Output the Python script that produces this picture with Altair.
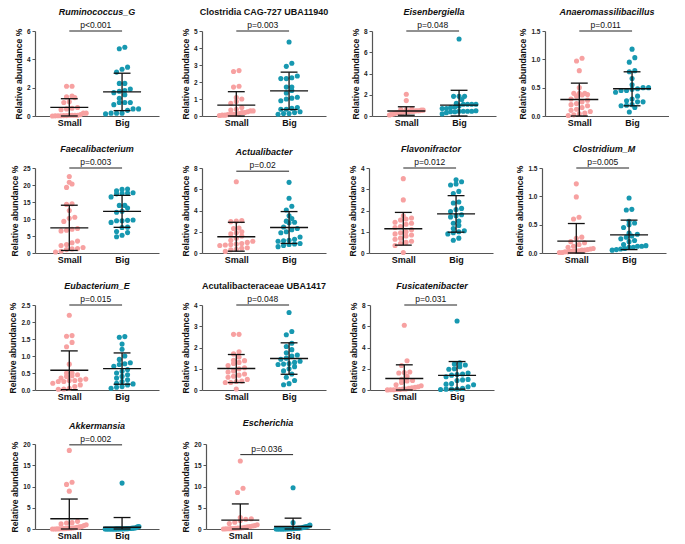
import altair as alt
import pandas as pd

# ---------------- data ----------------
names = ["Ruminococcus_G", "Clostridia CAG-727 UBA11940", "Eisenbergiella", "Anaeromassilibacillus",
         "Faecalibacterium", "Actualibacter", "Flavonifractor", "Clostridium_M",
         "Eubacterium_E", "Acutalibacteraceae UBA1417", "Fusicatenibacter",
         "Akkermansia", "Escherichia"]
italic = [True, False, True, True, True, True, True, True, True, False, True, True, True]
pvals = ["p<0.001", "p=0.003", "p=0.048", "p=0.011", "p=0.003", "p=0.02", "p=0.012", "p=0.005",
         "p=0.015", "p=0.048", "p=0.031", "p=0.002", "p=0.036"]
y_top = [6, 5, 8, 1.5, 25, 8, 4, 1.5, 2.5, 4, 8, 20, 20]
y_step = [2, 1, 2, 0.5, 5, 2, 1, 0.5, 0.5, 1, 2, 5, 5]
y_fmt = ["d", "d", "d", ".1f", "d", "d", "d", ".1f", ".1f", "d", "d", "d", "d"]
bracket_y = [6, 5, 8, 1.5, 25, 7.7, 4, 1.5, 2.5, 4, 8, 19.8, 17.5]

small_mean = [0.61, 0.64, 0.47, 0.29, 7.4, 1.53, 1.14, 0.21, 0.58, 1.01, 1.08, 2.4, 2.1]
small_sd = [0.61, 0.79, 0.40, 0.29, 6.65, 1.36, 0.77, 0.31, 0.57, 0.66, 1.29, 4.65, 3.8]
big_mean = [1.70, 1.48, 1.02, 0.48, 12.25, 2.4, 1.84, 0.32, 0.63, 1.48, 1.38, 0.4, 0.6]
big_sd = [1.32, 1.10, 1.40, 0.30, 4.7, 1.5, 0.86, 0.26, 0.46, 0.74, 1.30, 2.3, 1.95]

small_vals = [
    [2.1, 2.1, 1.4, 1.35, 1.3, 1.0, 0.95, 0.6, 0.55, 0.5, 0.45, 0.2, 0.2, 0.1, 0.05, 0.05, 0.05, 0.05, 0.03, 0.03, 0.02, 0.02, 0.01, 0.0],
    [2.67, 2.62, 1.75, 1.7, 1.08, 1.0, 0.85, 0.75, 0.5, 0.4, 0.35, 0.3, 0.3, 0.25, 0.2, 0.2, 0.15, 0.12, 0.1, 0.1, 0.08, 0.05, 0.05, 0.03],
    [2.05, 1.45, 0.65, 0.6, 0.6, 0.55, 0.55, 0.5, 0.5, 0.5, 0.45, 0.45, 0.45, 0.4, 0.4, 0.4, 0.35, 0.35, 0.3, 0.3, 0.25, 0.2, 0.15, 0.1],
    [1.02, 0.97, 0.8, 0.5, 0.4, 0.4, 0.4, 0.38, 0.37, 0.35, 0.3, 0.28, 0.25, 0.22, 0.2, 0.18, 0.15, 0.12, 0.1, 0.08, 0.05, 0.04, 0.02, 0.01],
    [22.5, 20.8, 20.3, 19.3, 14.5, 14.3, 12.5, 10.5, 10.2, 9.3, 7.2, 7.0, 6.7, 6.5, 3.5, 3.0, 2.5, 2.2, 1.6, 1.3, 1.2, 1.0, 0.5, 0.3],
    [6.7, 3.05, 3.0, 2.95, 2.35, 2.3, 2.0, 1.9, 1.8, 1.6, 1.4, 1.2, 1.1, 1.0, 0.9, 0.85, 0.8, 0.75, 0.7, 0.5, 0.45, 0.35, 0.3, 0.15],
    [3.5, 2.5, 1.75, 1.65, 1.6, 1.55, 1.45, 1.4, 1.35, 1.25, 1.2, 1.1, 1.0, 0.95, 0.9, 0.85, 0.8, 0.7, 0.65, 0.55, 0.5, 0.45, 0.35, 0.02],
    [1.22, 0.99, 0.63, 0.6, 0.28, 0.26, 0.2, 0.18, 0.15, 0.12, 0.1, 0.08, 0.07, 0.06, 0.05, 0.05, 0.04, 0.04, 0.03, 0.03, 0.02, 0.02, 0.01, 0.01],
    [2.2, 1.6, 1.58, 1.4, 1.27, 0.76, 0.5, 0.5, 0.45, 0.42, 0.4, 0.35, 0.32, 0.3, 0.28, 0.28, 0.25, 0.25, 0.2, 0.15, 0.1, 0.05, 0.03, 0.02],
    [2.62, 2.62, 1.8, 1.7, 1.55, 1.4, 1.38, 1.3, 1.25, 1.15, 1.05, 1.0, 0.9, 0.85, 0.75, 0.7, 0.65, 0.6, 0.5, 0.42, 0.4, 0.35, 0.35, 0.05],
    [6.1, 2.75, 2.3, 1.7, 1.65, 1.6, 1.3, 1.0, 0.9, 0.85, 0.7, 0.5, 0.4, 0.3, 0.25, 0.2, 0.15, 0.1, 0.1, 0.05, 0.05, 0.03, 0.02, 0.01],
    [18.5, 11.0, 10.5, 8.9, 1.8, 1.5, 1.4, 1.2, 1.0, 0.8, 0.6, 0.5, 0.4, 0.3, 0.25, 0.2, 0.15, 0.1, 0.08, 0.05, 0.03, 0.02, 0.01, 0.0],
    [16.0, 9.6, 8.6, 2.7, 2.4, 2.3, 2.0, 1.6, 1.3, 1.0, 0.8, 0.7, 0.6, 0.5, 0.4, 0.3, 0.25, 0.2, 0.15, 0.1, 0.08, 0.05, 0.03, 0.01],
]
big_vals = [
    [4.85, 4.75, 3.45, 3.3, 3.1, 2.3, 2.3, 1.9, 1.8, 1.75, 1.65, 1.5, 1.25, 0.95, 0.95, 0.95, 0.8, 0.5, 0.5, 0.4, 0.2, 0.2, 0.2, 0.15],
    [4.35, 3.1, 2.92, 2.35, 2.25, 2.2, 2.2, 1.7, 1.7, 1.5, 1.35, 1.1, 1.05, 1.0, 0.9, 0.5, 0.45, 0.4, 0.4, 0.25, 0.2, 0.15, 0.15, 0.1],
    [7.25, 1.85, 1.85, 1.85, 1.55, 1.2, 1.1, 1.1, 1.1, 1.1, 0.95, 0.85, 0.8, 0.7, 0.7, 0.5, 0.45, 0.45, 0.45, 0.45, 0.4, 0.4, 0.3, 0.2],
    [1.18, 1.03, 0.95, 0.8, 0.78, 0.66, 0.55, 0.5, 0.5, 0.48, 0.47, 0.45, 0.45, 0.42, 0.35, 0.3, 0.27, 0.25, 0.25, 0.2, 0.19, 0.18, 0.15, 0.07],
    [18.8, 18.7, 18.3, 17.7, 17.6, 17.5, 17.4, 16.5, 14.0, 14.0, 13.2, 12.3, 12.0, 9.7, 9.6, 9.5, 9.5, 9.0, 7.6, 7.5, 6.3, 6.0, 5.2, 4.8],
    [6.65, 5.15, 4.4, 4.05, 3.5, 3.25, 3.0, 2.9, 2.85, 2.45, 2.3, 2.2, 2.0, 1.9, 1.5, 1.3, 1.2, 1.15, 1.1, 0.9, 0.85, 0.8, 0.7, 0.6],
    [3.45, 3.35, 3.25, 3.2, 2.9, 2.8, 2.4, 2.35, 2.1, 2.05, 1.95, 1.8, 1.75, 1.7, 1.5, 1.4, 1.3, 1.15, 1.05, 1.0, 0.95, 0.9, 0.7, 0.6],
    [0.97, 0.77, 0.76, 0.56, 0.53, 0.5, 0.45, 0.35, 0.33, 0.3, 0.28, 0.25, 0.22, 0.2, 0.15, 0.13, 0.12, 0.12, 0.1, 0.1, 0.08, 0.07, 0.06, 0.05],
    [1.57, 1.55, 1.35, 1.2, 1.0, 0.9, 0.8, 0.77, 0.75, 0.7, 0.6, 0.55, 0.5, 0.45, 0.4, 0.35, 0.3, 0.25, 0.2, 0.18, 0.15, 0.1, 0.08, 0.05],
    [3.65, 2.75, 2.6, 2.2, 2.05, 1.9, 1.75, 1.65, 1.6, 1.5, 1.45, 1.35, 1.3, 1.25, 1.22, 1.2, 1.1, 1.0, 0.9, 0.75, 0.6, 0.45, 0.3, 0.25],
    [6.5, 2.55, 2.45, 2.35, 2.2, 2.0, 1.95, 1.6, 1.5, 1.45, 1.4, 1.25, 1.0, 0.95, 0.9, 0.6, 0.55, 0.5, 0.3, 0.15, 0.1, 0.1, 0.08, 0.05],
    [10.8, 0.6, 0.5, 0.3, 0.25, 0.2, 0.15, 0.12, 0.1, 0.08, 0.06, 0.05, 0.04, 0.03, 0.03, 0.02, 0.02, 0.01, 0.01, 0.01, 0.0, 0.0, 0.0, 0.0],
    [9.7, 1.5, 0.9, 0.7, 0.6, 0.5, 0.4, 0.3, 0.25, 0.2, 0.15, 0.12, 0.1, 0.08, 0.06, 0.05, 0.04, 0.03, 0.02, 0.02, 0.01, 0.01, 0.0, 0.0],
]

# ---------------- styling / layout ----------------
W, H = 124, 85
XDOM = [0.35, 2.7]
PINK, TEAL = "#F7A1A1", "#1798B0"
FONT = "Liberation Sans"


def swarm(vals, top):
    """Prism-like scatter offsets: points with similar values are set side by side."""
    xu = (XDOM[1] - XDOM[0]) / W
    thr = 5.0 * top / H
    order = sorted(range(len(vals)), key=lambda k: vals[k])
    rows, cur = [], []
    for k in order:
        if cur and vals[k] - vals[cur[0]] < thr:
            cur.append(k)
        else:
            if cur:
                rows.append(cur)
            cur = [k]
    rows.append(cur)
    offs = [0.0] * len(vals)
    for r in rows:
        n = len(r)
        sp = min(5.5 * xu, 0.64 / max(n - 1, 1))
        for j, k in enumerate(r):
            offs[k] = (j - (n - 1) / 2) * sp
    return offs


def panel(i):
    top = y_top[i]
    recs = []
    for g, gx, vals in (("Small", 1, small_vals[i]), ("Big", 2, big_vals[i])):
        for v, o in zip(vals, swarm(vals, top)):
            recs.append({"grp": g, "xp": gx + o, "val": v})
    pts = pd.DataFrame(recs)
    summ = pd.DataFrame({
        "gx": [1, 2],
        "mean": [small_mean[i], big_mean[i]],
        "lo": [max(0, small_mean[i] - small_sd[i]), max(0, big_mean[i] - big_sd[i])],
        "hi": [small_mean[i] + small_sd[i], big_mean[i] + big_sd[i]],
    })
    summ["ml"] = summ["gx"] - 0.36
    summ["mr"] = summ["gx"] + 0.36
    summ["cl"] = summ["gx"] - 0.16
    summ["cr"] = summ["gx"] + 0.16
    br = pd.DataFrame({"x1": [1.0], "x2": [2.0], "xm": [1.5], "y": [bracket_y[i]], "p": [pvals[i]]})

    ticks = []
    t = 0.0
    while t <= top + 1e-9:
        ticks.append(round(t, 3))
        t += y_step[i]

    xs = alt.Scale(domain=XDOM, nice=False, zero=False)
    ys = alt.Scale(domain=[0, top], nice=False)
    xax = alt.Axis(values=[1, 2], labelExpr="datum.value == 1 ? 'Small' : 'Big'", ticks=False,
                   grid=False, title=None, labelFontSize=9, labelFontWeight="bold",
                   labelPadding=2, labelColor="#111", domainColor="#555", domainWidth=1.2)
    yax = alt.Axis(values=ticks, format=y_fmt[i], grid=False, title="Relative abundance %",
                   titleFontSize=8.6, titleFontWeight="bold", titleColor="#111", titlePadding=3,
                   labelFontSize=6.5, labelFontWeight="bold", labelColor="#222", labelPadding=2,
                   tickSize=3, tickColor="#555", domainColor="#555", domainWidth=1.2)

    def X(f):
        return alt.X(f, type="quantitative", scale=xs, axis=xax)

    def Y(f):
        return alt.Y(f, type="quantitative", scale=ys, axis=yax)

    points = alt.Chart(pts).mark_circle(size=26, opacity=1).encode(
        x=X("xp"), y=Y("val"),
        color=alt.Color("grp:N", scale=alt.Scale(domain=["Small", "Big"], range=[PINK, TEAL]), legend=None),
    )
    base = alt.Chart(summ)
    mean = base.mark_rule(color="#111", strokeWidth=1.4).encode(x=X("ml"), x2="mr", y=Y("mean"))
    sd = base.mark_rule(color="#111", strokeWidth=1.3).encode(x=X("gx"), y=Y("lo"), y2="hi")
    cap_hi = base.mark_rule(color="#111", strokeWidth=1.3).encode(x=X("cl"), x2="cr", y=Y("hi"))
    cap_lo = base.mark_rule(color="#111", strokeWidth=1.3).encode(x=X("cl"), x2="cr", y=Y("lo"))
    bracket = alt.Chart(br).mark_rule(color="#222", strokeWidth=1).encode(x=X("x1"), x2="x2", y=Y("y"))
    ptext = alt.Chart(br).mark_text(baseline="bottom", dy=-1, fontSize=8.5, font=FONT, color="#111").encode(
        x=X("xm"), y=Y("y"), text="p:N")

    # the p-value text sticks out above the plot except where the bracket sits lower
    toff = 4 if bracket_y[i] >= 0.95 * top else 13
    return alt.layer(points, mean, sd, cap_hi, cap_lo, bracket, ptext).properties(
        width=W, height=H,
        title=alt.TitleParams(names[i], fontSize=9, fontWeight="bold", font=FONT,
                              fontStyle="italic" if italic[i] else "normal",
                              anchor="middle", frame="group", offset=toff, color="#111"),
    )


rows_idx = [[0, 1, 2, 3], [4, 5, 6, 7], [8, 9, 10], [11, 12]]
rows = [alt.hconcat(*[panel(i) for i in r], spacing=22) for r in rows_idx]
chart = alt.vconcat(*rows, spacing=18).properties(padding=0).configure_view(stroke=None).configure_axis(
    labelFont=FONT, titleFont=FONT).configure_title(font=FONT)

chart.save("out.html", embed_options={"renderer": "svg", "actions": False})
